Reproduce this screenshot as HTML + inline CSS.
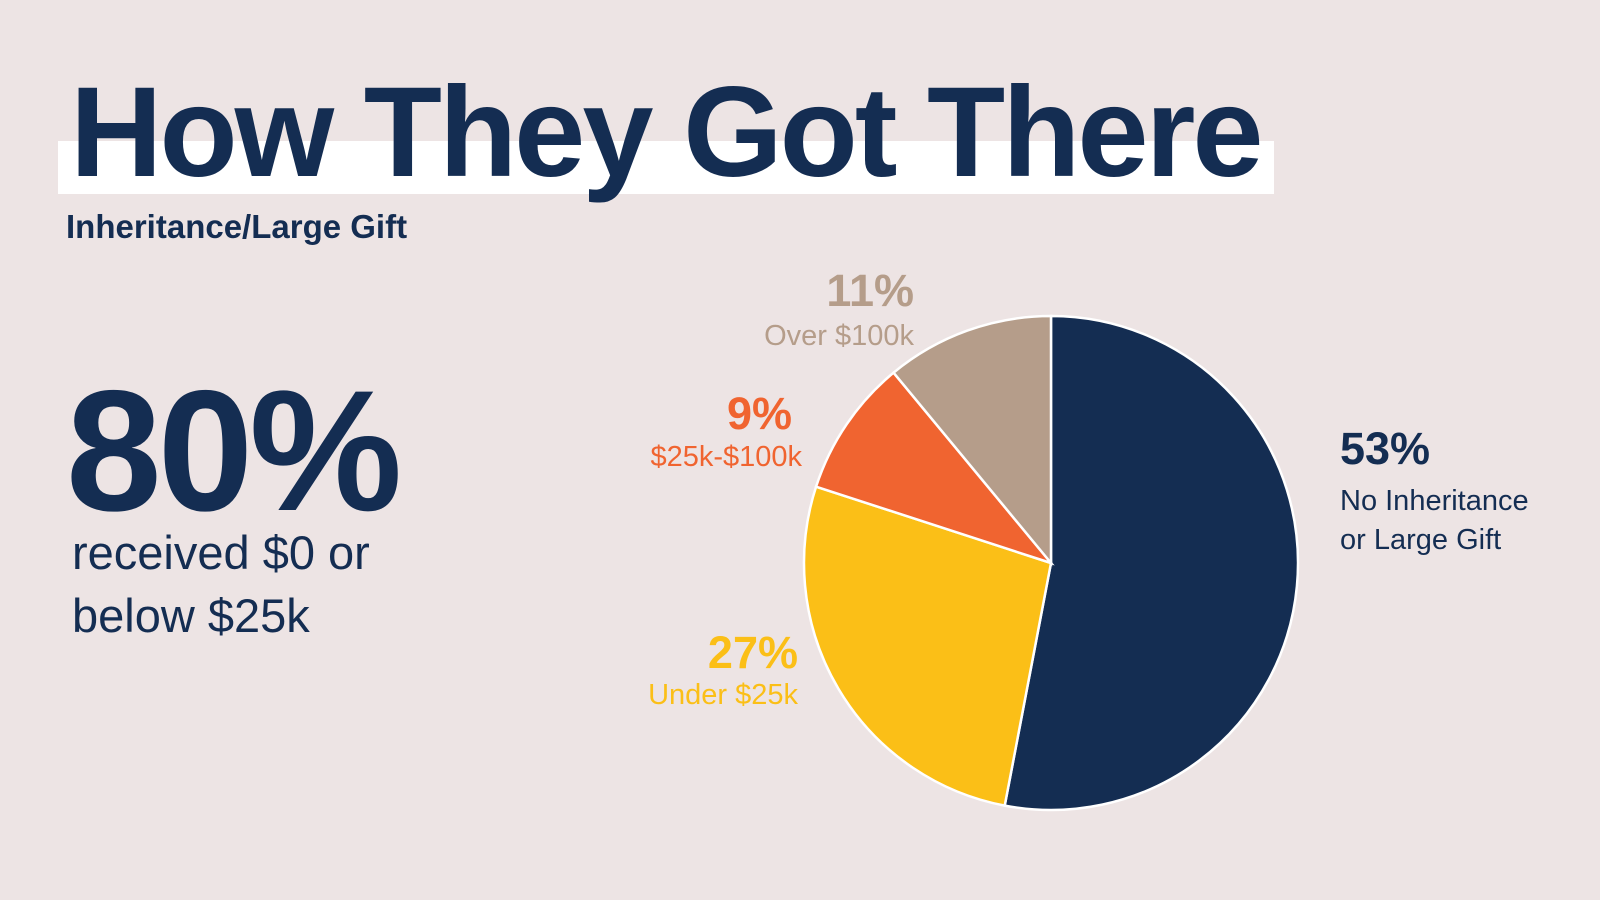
<!DOCTYPE html>
<html><head><meta charset="utf-8"><style>
body{margin:0;width:1600px;height:900px;background:#ede4e4;overflow:hidden;font-family:"Liberation Sans",sans-serif}
svg{position:absolute;left:0;top:0}
</style></head><body>
<svg width="1600" height="900">
<rect x="58" y="141" width="1216" height="53" fill="#ffffff"/>
<text x="70" y="176" font-size="128" font-weight="bold" fill="#142d52" letter-spacing="-3">How They Got There</text>
<text x="66" y="238" font-size="33" font-weight="bold" fill="#142d52">Inheritance/Large Gift</text>
<text x="66" y="510" font-size="172" font-weight="bold" fill="#142d52" letter-spacing="-4">80%</text>
<text x="72" y="569" font-size="47" fill="#142d52">received $0 or</text>
<text x="72" y="632" font-size="47" fill="#142d52">below $25k</text>
<g id="pie"></g>
<g font-size="29">
<text x="914" y="306" text-anchor="end" font-size="45" font-weight="bold" fill="#b59d8a">11%</text>
<text x="914" y="345" text-anchor="end" fill="#b59d8a">Over $100k</text>
<text x="792" y="429" text-anchor="end" font-size="45" font-weight="bold" fill="#f06430">9%</text>
<text x="802" y="466" text-anchor="end" fill="#f06430">$25k-$100k</text>
<text x="798" y="668" text-anchor="end" font-size="45" font-weight="bold" fill="#fbbf17">27%</text>
<text x="798" y="704" text-anchor="end" fill="#fbbf17">Under $25k</text>
<text x="1340" y="464" font-size="45" font-weight="bold" fill="#142d52">53%</text>
<text x="1340" y="510" fill="#142d52">No Inheritance</text>
<text x="1340" y="549" fill="#142d52">or Large Gift</text>
</g>
</svg>
<script>
const categories=["No Inheritance or Large Gift","Under $25k","$25k-$100k","Over $100k"];
const values=[53,27,9,11];
const colors=["#142d52","#fbbf17","#f06430","#b59d8a"];
const cx=1051,cy=563,r=247;
const g=document.getElementById('pie');
const total=values.reduce((a,b)=>a+b,0);
let a0=0;
values.forEach((v,i)=>{
  const a1=a0+v/total*Math.PI*2;
  const p=(a)=>[cx+r*Math.sin(a),cy-r*Math.cos(a)];
  const [x0,y0]=p(a0),[x1,y1]=p(a1);
  const path=document.createElementNS('http://www.w3.org/2000/svg','path');
  path.setAttribute('d',`M${cx},${cy}L${x0},${y0}A${r},${r} 0 ${a1-a0>Math.PI?1:0} 1 ${x1},${y1}Z`);
  path.setAttribute('fill',colors[i]);
  path.setAttribute('stroke','#ffffff');
  path.setAttribute('stroke-width','2.5');
  
  
  g.appendChild(path);
  a0=a1;
});
</script>
</body></html>
